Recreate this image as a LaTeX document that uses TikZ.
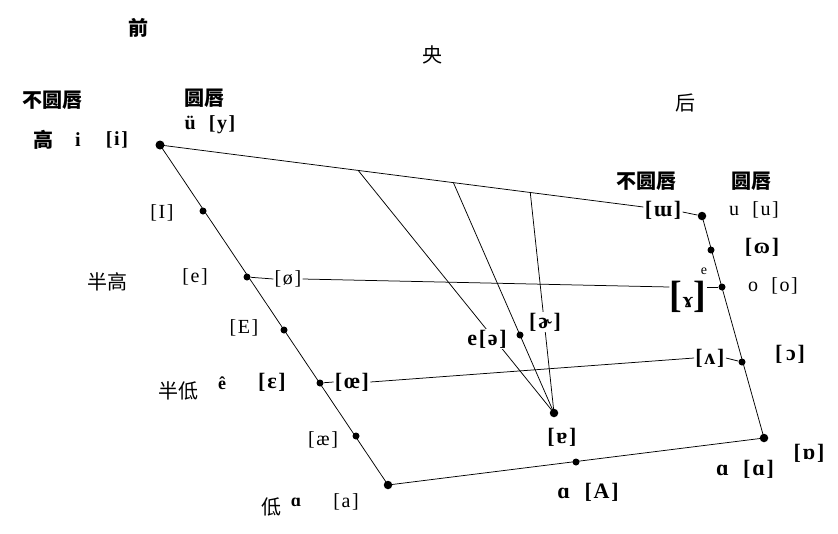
\documentclass[tikz,border=0pt]{standalone}
\usepackage{fontspec}
\setmainfont{Liberation Serif}
\newfontfamily\ipaf[LetterSpace=8,WordSpace=2]{Liberation Serif}
\newfontfamily\cjk{Noto Sans CJK SC}
\usetikzlibrary{calc}
\tikzset{
  ipa/.style={font=\ipaf\fontsize{20}{22}\selectfont, inner sep=1pt},
  ipab/.style={font=\ipaf\fontsize{22}{24}\selectfont\bfseries, inner sep=1pt},
  ipabs/.style={font=\ipaf\fontsize{20}{22}\selectfont\bfseries, inner sep=1pt},
  zh/.style={font=\cjk\fontsize{20}{22}\selectfont, inner sep=1pt},
  zhb/.style={font=\cjk\bfseries\fontsize{20}{22}\selectfont, inner sep=1pt},
  vdot/.style={circle, fill=black, inner sep=0pt, minimum size=7pt},
  cover/.style={fill=white}
}
\newcommand{\bigbr}[1]{{\fontsize{38}{40}\selectfont #1}}
\begin{document}
\begin{tikzpicture}[x=1pt,y=-1pt, line width=0.75pt]
\useasboundingbox (0,0) rectangle (838,533);
% vowel points
\node[vdot,minimum size=9pt] (pi) at (160,145) {};
\node[vdot] (pI) at (203,211) {};
\node[vdot] (pe) at (247,277) {};
\node[vdot] (pE) at (284,330) {};
\node[vdot] (peps) at (320,383) {};
\node[vdot] (pae) at (356,436) {};
\node[vdot,minimum size=8.5pt] (pa) at (388,485) {};
\node[vdot] (pA) at (576,462) {};
\node[vdot,minimum size=8.5pt] (pbka) at (764,438) {};
\node[vdot] (popen) at (742,362) {};
\node[vdot] (po) at (722,287) {};
\node[vdot] (pom) at (711,250) {};
\node[vdot,minimum size=8.5pt] (pu) at (702,216) {};
\node[vdot,minimum size=8.5pt] (pturn) at (554,413) {};
\node[vdot] (pschwa) at (520,335) {};
% outline
\draw (pi.center) -- (pa.center) -- (pbka.center) -- (pu.center);
% labels on lines
\node[ipab] (lw) at (663,210) {[ɯ]};
\node[ipa] (loe) at (288,279) {[ø]};
\node[ipab, inner sep=0pt] (lgam) at (688,297) {\bigbr{[}ɤ\bigbr{]}};
\node[font=\fontsize{14}{15}\selectfont, inner sep=0pt] (lsup) at (704,271) {e};
\node[ipab] (loe2) at (352,382) {[œ]};
\node[ipab] (lwedge) at (710,358) {[ʌ]};
% top line
\draw (pi.center) -- ([yshift=3pt]lw.west);
\draw ([yshift=-2pt]lw.east) -- (pu);
\coordinate (c1) at ($(pi.center)!0.41!([yshift=3pt]lw.west)$);
\coordinate (c2) at ($(pi.center)!0.607!([yshift=3pt]lw.west)$);
\coordinate (c3) at ($(pi.center)!0.766!([yshift=3pt]lw.west)$);
\draw (c1) -- (pturn.center);
\draw (c2) -- (pturn.center);
\draw (c3) -- (pturn.center);
% horizontal lines
\draw (pe) -- (loe.west);
\draw (loe.east) -- ([yshift=10pt]lgam.west);
\draw (po) -- (po -| lgam.east);
\draw (peps) -- (loe2.west);
\draw (loe2.east) -- (lwedge.west);
\draw (lwedge.east) -- (popen);
% covered central labels
\node[ipab, cover] (lschwa) at (487,339) {e[ə]};
\node[ipab, cover] (lrhot) at (545,322) {[ɚ]};
\node[ipab] (lturn) at (562,437) {[ɐ]};
% headings
\node[zhb] (hqian) at (138,28) {前};
\node[zh] (hyang) at (432,55) {央};
\node[zh] (hhou) at (685,103) {后};
\node[zhb] (hunr1) at (53,100) {不圆唇};
\node[zhb] (hr1) at (204,98) {圆唇};
\node[zhb] (hunr2) at (646,181) {不圆唇};
\node[zhb] (hr2) at (751,181) {圆唇};
% left side labels
\node[ipabs] (ly) at (210,125) {ü [y]};
\node[zhb] (hgao) at (43,140) {高};
\node[ipabs] (li1) at (78,140) {i};
\node[ipabs] (li2) at (117,140) {[i]};
\node[ipa] (lI) at (162,213) {[I]};
\node[zh] (hbg) at (107,282) {半高};
\node[ipa] (le) at (195,277) {[e]};
\node[ipa] (lE) at (244,328) {[E]};
\node[zh] (hbd) at (178,391) {半低};
\node[ipab, font=\ipaf\fontsize{18}{19}\selectfont\bfseries] (lecirc) at (222,383) {ê};
\node[ipab] (leps) at (272,382) {[ɛ]};
\node[ipa] (lae) at (323,440) {[æ]};
\node[zh] (hdi) at (271,507) {低};
\node[ipab, font=\ipaf\fontsize{18}{19}\selectfont\bfseries] (lalpha) at (296,502) {ɑ};
\node[ipa] (la) at (346,502) {[a]};
% bottom & right labels
\node[ipab] (lA) at (588,492) {ɑ [A]};
\node[ipab] (lbka) at (745,469) {ɑ [ɑ]};
\node[ipab] (lrnd) at (809,453) {[ɒ]};
\node[ipa] (lu) at (754,210) {u [u]};
\node[ipab] (lom) at (762,247) {[ɷ]};
\node[ipa] (lo) at (773,286) {o [o]};
\node[ipab] (lopen) at (790,354) {[\,ɔ]};
\end{tikzpicture}
\end{document}
